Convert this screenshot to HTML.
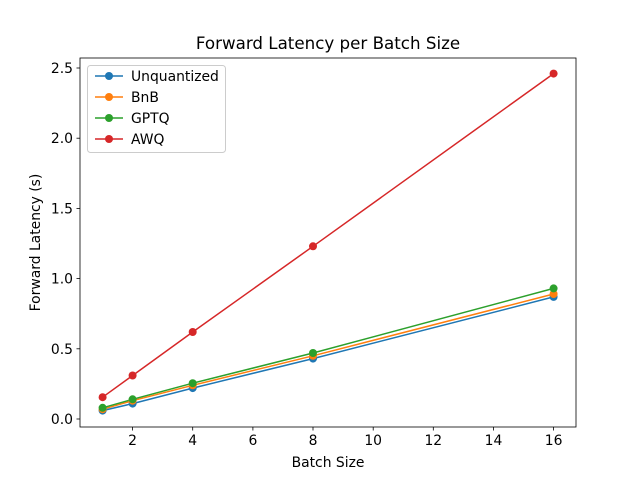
<!DOCTYPE html>
<html><head><meta charset="utf-8"><style>body{margin:0;background:#fff}svg{display:block}text{font-family:"DejaVu Sans","Liberation Sans",sans-serif;fill:#000}</style></head><body>
<svg width="640" height="480" viewBox="0 0 640 480" xmlns="http://www.w3.org/2000/svg">
<rect width="640" height="480" fill="#fff"/>
<text x="328" y="49" font-size="16.7" text-anchor="middle">Forward Latency per Batch Size</text>
<g stroke="#000" stroke-width="0.8">
<line x1="132.6" y1="427" x2="132.6" y2="430.5"/><line x1="192.7" y1="427" x2="192.7" y2="430.5"/><line x1="252.9" y1="427" x2="252.9" y2="430.5"/><line x1="313" y1="427" x2="313" y2="430.5"/><line x1="373.2" y1="427" x2="373.2" y2="430.5"/><line x1="433.3" y1="427" x2="433.3" y2="430.5"/><line x1="493.5" y1="427" x2="493.5" y2="430.5"/><line x1="553.6" y1="427" x2="553.6" y2="430.5"/>
<line x1="76.5" y1="419" x2="80" y2="419"/><line x1="76.5" y1="348.8" x2="80" y2="348.8"/><line x1="76.5" y1="278.6" x2="80" y2="278.6"/><line x1="76.5" y1="208.4" x2="80" y2="208.4"/><line x1="76.5" y1="138.2" x2="80" y2="138.2"/><line x1="76.5" y1="68" x2="80" y2="68"/>
</g>
<g font-size="13.9" text-anchor="middle">
<text x="132.6" y="445">2</text><text x="192.7" y="445">4</text><text x="252.9" y="445">6</text><text x="313" y="445">8</text><text x="373.2" y="445">10</text><text x="433.3" y="445">12</text><text x="493.5" y="445">14</text><text x="553.6" y="445">16</text>
</g>
<g font-size="13.9" text-anchor="end">
<text x="73" y="424">0.0</text><text x="73" y="353.8">0.5</text><text x="73" y="283.6">1.0</text><text x="73" y="213.4">1.5</text><text x="73" y="143.2">2.0</text><text x="73" y="73">2.5</text>
</g>
<text x="328" y="467" font-size="13.9" text-anchor="middle">Batch Size</text>
<text transform="translate(40,242.5) rotate(-90)" font-size="13.9" text-anchor="middle">Forward Latency (s)</text>
<g fill="none" stroke-width="1.5">
<polyline stroke="#1f77b4" points="102.6,410.6 132.6,403.6 192.7,388.1 313,358.6 553.6,296.9"/>
<polyline stroke="#ff7f0e" points="102.6,409.2 132.6,400.7 192.7,385.3 313,355.8 553.6,294"/>
<polyline stroke="#2ca02c" points="102.6,407.8 132.6,399.3 192.7,383.2 313,353 553.6,288.4"/>
<polyline stroke="#d62728" points="102.6,397.2 132.6,375.5 192.7,332 313,246.3 553.6,73.6"/>
</g>
<g fill="#1f77b4"><circle cx="102.6" cy="410.6" r="4"/><circle cx="132.6" cy="403.6" r="4"/><circle cx="192.7" cy="388.1" r="4"/><circle cx="313" cy="358.6" r="4"/><circle cx="553.6" cy="296.9" r="4"/></g>
<g fill="#ff7f0e"><circle cx="102.6" cy="409.2" r="4"/><circle cx="132.6" cy="400.7" r="4"/><circle cx="192.7" cy="385.3" r="4"/><circle cx="313" cy="355.8" r="4"/><circle cx="553.6" cy="294" r="4"/></g>
<g fill="#2ca02c"><circle cx="102.6" cy="407.8" r="4"/><circle cx="132.6" cy="399.3" r="4"/><circle cx="192.7" cy="383.2" r="4"/><circle cx="313" cy="353" r="4"/><circle cx="553.6" cy="288.4" r="4"/></g>
<g fill="#d62728"><circle cx="102.6" cy="397.2" r="4"/><circle cx="132.6" cy="375.5" r="4"/><circle cx="192.7" cy="332" r="4"/><circle cx="313" cy="246.3" r="4"/><circle cx="553.6" cy="73.6" r="4"/></g>
<rect x="80" y="58" width="496" height="369" fill="none" stroke="#000" stroke-width="0.8"/>
<rect x="87.5" y="65.5" width="138" height="87" rx="3" fill="#fff" fill-opacity="0.8" stroke="#ccc" stroke-width="1"/>
<g stroke-width="1.5">
<line x1="95" y1="76" x2="123" y2="76" stroke="#1f77b4"/><circle cx="109" cy="76" r="4" fill="#1f77b4"/>
<line x1="95" y1="97" x2="123" y2="97" stroke="#ff7f0e"/><circle cx="109" cy="97" r="4" fill="#ff7f0e"/>
<line x1="95" y1="118" x2="123" y2="118" stroke="#2ca02c"/><circle cx="109" cy="118" r="4" fill="#2ca02c"/>
<line x1="95" y1="139" x2="123" y2="139" stroke="#d62728"/><circle cx="109" cy="139" r="4" fill="#d62728"/>
</g>
<g font-size="13.9">
<text x="131" y="81">Unquantized</text><text x="131" y="102">BnB</text><text x="131" y="123">GPTQ</text><text x="131" y="144">AWQ</text>
</g>
</svg>
</body></html>
